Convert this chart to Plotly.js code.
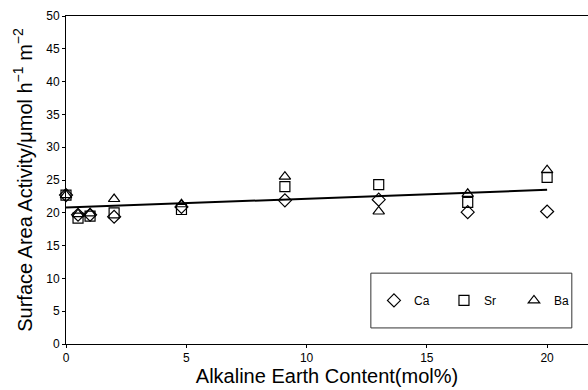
<!DOCTYPE html>
<html>
<head>
<meta charset="utf-8">
<script src="https://cdn.plot.ly/plotly-3.0.1.min.js"></script>
<style>html,body{margin:0;padding:0;background:#fff;}#chart{width:588px;height:390px;}</style>
</head>
<body>
<div id="chart"></div>
<script>
// Alkaline earth content (mol%)
var content = [0, 0.5, 1, 2, 4.8, 9.1, 13, 16.7, 20];
// Surface area activity (umol h-1 m-2)
var caValues = [22.7, 19.7, 19.7, 19.4, 20.9, 21.9, 22.0, 20.1, 20.2];
var srValues = [22.7, 19.2, 19.5, 20.0, 20.5, 24.0, 24.3, 21.6, 25.4];
var baValues = [22.7, 19.8, 19.9, 22.1, 21.3, 25.5, 20.2, 22.9, 26.5];
// Linear trend line end points
var trendX = [0, 20];
var trendY = [20.8, 23.5];
var seriesNames = ['Ca', 'Sr', 'Ba'];
var xTicks = [0, 5, 10, 15, 20];
var yTicks = [0, 5, 10, 15, 20, 25, 30, 35, 40, 45, 50];

var mk = function (sym, sz) {
  return {symbol: sym, size: sz, color: '#000', line: {color: '#000', width: 1.2}};
};
var traces = [
  {x: trendX, y: trendY, mode: 'lines', line: {color: '#000', width: 2}, showlegend: false, hoverinfo: 'skip', cliponaxis: false},
  {x: content, y: caValues, name: seriesNames[0], mode: 'markers', marker: mk('diamond-open', 10), cliponaxis: false},
  {x: content, y: srValues, name: seriesNames[1], mode: 'markers', marker: mk('square-open', 10), cliponaxis: false},
  {x: content, y: baValues, name: seriesNames[2], mode: 'markers', marker: mk('triangle-up-open', 10), cliponaxis: false}
];

var font = 'Liberation Sans, Arial, sans-serif';
var layout = {
  width: 588, height: 390,
  margin: {l: 66, r: 0, t: 16, b: 46},
  paper_bgcolor: '#fff', plot_bgcolor: '#fff',
  font: {family: font, color: '#000', size: 12},
  showlegend: true,
  xaxis: {
    range: [0, 21.7], tickvals: xTicks, ticktext: xTicks.map(String),
    showgrid: false, zeroline: false, showline: true, linecolor: '#000', linewidth: 1,
    mirror: true, ticks: 'outside', ticklen: 3, tickcolor: '#000',
    tickfont: {size: 12, family: font},
    title: {text: 'Alkaline Earth Content(mol%)', font: {size: 20, family: font}, standoff: 3}
  },
  yaxis: {
    range: [0, 50], tickvals: yTicks, ticktext: yTicks.map(String),
    showgrid: false, zeroline: false, showline: true, linecolor: '#000', linewidth: 1,
    ticks: 'outside', ticklen: 3, tickcolor: '#000',
    tickfont: {size: 12, family: font},
    title: {text: 'Surface Area Activity/μmol h<sup>−1</sup> m<sup>−2</sup>', font: {size: 20, family: font}, standoff: 8}
  },
  legend: {
    orientation: 'h', x: 0.59, xanchor: 'left', y: 0.133, yanchor: 'middle',
    bgcolor: 'rgba(0,0,0,0)', borderwidth: 0,
    entrywidth: 25, entrywidthmode: 'pixels', itemwidth: 30,
    font: {size: 12, family: font}
  },
  shapes: [
    {type: 'rect', xref: 'paper', yref: 'paper', x0: 0.584, x1: 0.969, y0: 0.049, y1: 0.216,
     line: {color: '#333', width: 1}, fillcolor: 'rgba(0,0,0,0)'}
  ]
};
Plotly.newPlot('chart', traces, layout, {staticPlot: true, displayModeBar: false});
</script>
</body>
</html>
